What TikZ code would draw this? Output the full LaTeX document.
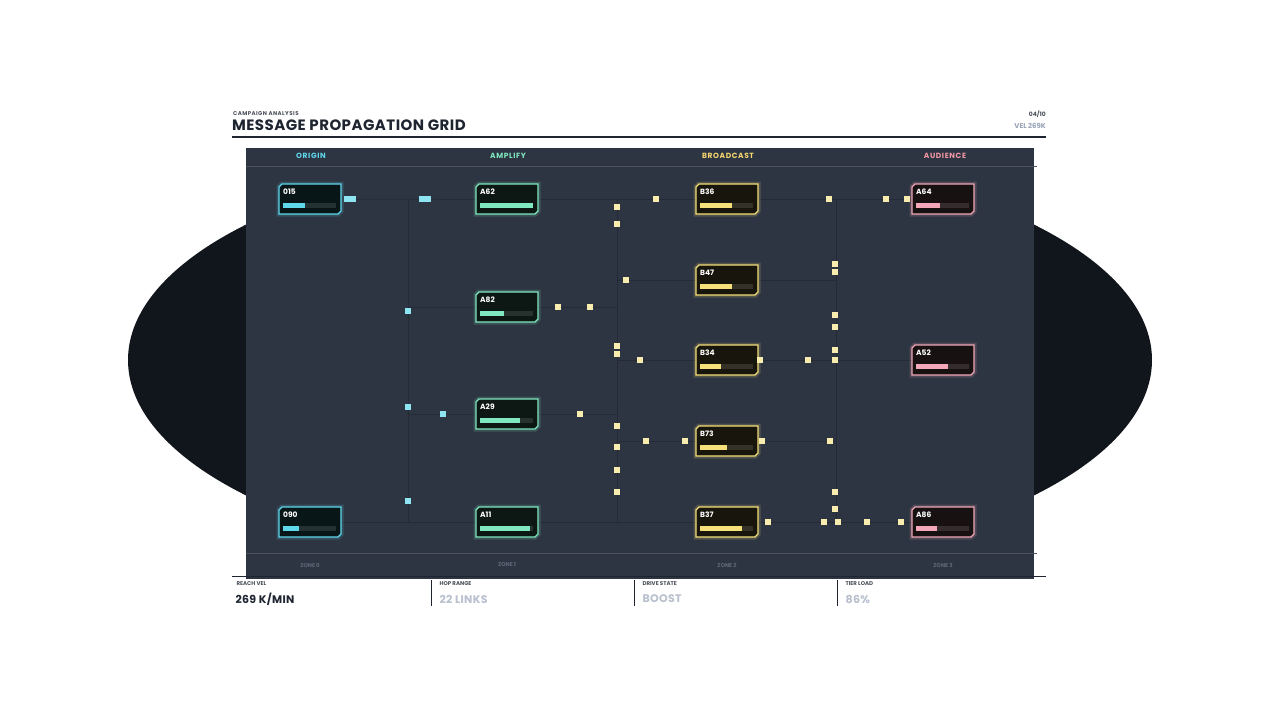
\documentclass[tikz,border=0pt]{standalone}
\usepackage{fontspec}
\setmainfont{Poppins}
\newfontfamily\wideff[LetterSpace=8]{Poppins}
\newfontfamily\midff[LetterSpace=3]{Poppins}
\begin{document}
\definecolor{panel}{HTML}{2E3542}
\definecolor{ell}{HTML}{11151C}
\definecolor{cy}{HTML}{5FD8EC}
\definecolor{gr}{HTML}{7FE8C0}
\definecolor{ye}{HTML}{F5E07A}
\definecolor{pk}{HTML}{F2A8B8}
\definecolor{ink}{HTML}{1E2430}
\definecolor{wire}{HTML}{252B36}
\definecolor{gtx}{HTML}{9AA4B8}
\begin{tikzpicture}[x=1pt,y=-1pt,
  gbox/.style={minimum width=62pt,minimum height=30pt,inner sep=0},
  wirel/.style={draw=wire,line width=1pt},
  hdr/.style={font=\wideff\bfseries\fontsize{7.5}{8}\selectfont},
  zone/.style={font=\bfseries\fontsize{5.5}{6}\selectfont,text=gtx!45!panel},
  slab/.style={font=\bfseries\fontsize{5.5}{6}\selectfont,text=ink!80,anchor=west},
  sval/.style={font=\midff\bfseries\fontsize{11}{12}\selectfont,anchor=west}]
\useasboundingbox (0,0) rectangle (1280,720);
\fill[white] (0,0) rectangle (1280,720);
\fill[ell] (640,360) ellipse [x radius=512, y radius=212];
\fill[panel] (246,148) rectangle (1034,579);
\draw[ink,line width=1.2pt] (232,137) -- (1046,137);
\draw[ink,line width=1pt] (232,576) -- (1046,576);
\draw[ink!80,line width=0.6pt] (246,166) -- (1037,166);
\draw[ink!80,line width=0.6pt] (246,553) -- (1037,553);
% header
\node[anchor=west,inner sep=0,font=\wideff\bfseries\fontsize{5.5}{6}\selectfont,text=ink!80] (sub) at (233,114) {CAMPAIGN ANALYSIS};
\node[anchor=west,inner sep=0,font=\midff\bfseries\fontsize{15}{16}\selectfont,text=ink] (title) at (232,125) {MESSAGE PROPAGATION GRID};
\node[anchor=east,inner sep=0,font=\bfseries\fontsize{6}{7}\selectfont,text=ink!80] (pg) at (1046,114) {04/10};
\node[anchor=east,inner sep=0,font=\bfseries\fontsize{7}{8}\selectfont,text=gtx] (vel) at (1046,126) {VEL 269K};
\node[hdr,text=cy] (h0) at (311,156) {ORIGIN};
\node[hdr,text=gr] (h1) at (508,156) {AMPLIFY};
\node[hdr,text=ye!90!orange] (h2) at (728,156) {BROADCAST};
\node[hdr,text=pk!90!red] (h3) at (945,156) {AUDIENCE};
\foreach \x/\n in {310/0,507/1,727/2,943/3}{\node[zone] (z\n) at (\x,565) {ZONE \n};}
% node anchors first
\foreach \n/\x/\y in {n015/310/199,n090/310/522,a62/507/199,a82/507/307,a29/507/414,a11/507/522,b36/727/199,b47/727/280,b34/727/360,b73/727/441,b37/727/522,a64/943/199,a52/943/360,a86/943/522}
  {\node[gbox] (\n) at (\x,\y) {};}
% wires
\coordinate (b1t) at (408,199); \coordinate (b1b) at (408,522);
\coordinate (b2t) at (617,199); \coordinate (b2b) at (617,522);
\coordinate (b3t) at (836,199); \coordinate (b3b) at (836,522);
\draw[wirel] (b1t)--(b1b); \draw[wirel] (b2t)--(b2b); \draw[wirel] (b3t)--(b3b);
\draw[wirel] (n015.east) -- (b1t) -- (a62.west);
\draw[wirel] (n090.east) -- (b1b);
\draw[wirel] (b1t |- a82) -- (a82.west);
\draw[wirel] (b1t |- a29) -- (a29.west);
\draw[wirel] (b1b) -- (a11.west);
\draw[wirel] (a62.east) -- (b36.west);
\draw[wirel] (a82.east) -- (b2t |- a82);
\draw[wirel] (a29.east) -- (b2t |- a29);
\draw[wirel] (a11.east) -- (b37.west);
\draw[wirel] (b2t |- b47) -- (b47.west);
\draw[wirel] (b2t |- b34) -- (b34.west);
\draw[wirel] (b2t |- b73) -- (b73.west);
\draw[wirel] (b36.east) -- (a64.west);
\draw[wirel] (b47.east) -- (b3t |- b47);
\draw[wirel] (b34.east) -- (a52.west);
\draw[wirel] (b73.east) -- (b3t |- b73);
\draw[wirel] (b37.east) -- (a86.west);
\newcommand\gnode[6]{%
 \begin{scope}[shift={(#2,#3)}]
 \draw[#5,line width=5pt,opacity=.18] (-31,-12)--(-28,-15)--(31,-15)--(31,12)--(28,15)--(-31,15)--cycle;
 \filldraw[fill=#5!10!black,draw=#5,line width=1.1pt] (-31,-12)--(-28,-15)--(31,-15)--(31,12)--(28,15)--(-31,15)--cycle;
 \node[anchor=west,inner sep=0,font=\bfseries\fontsize{7.5}{8}\selectfont,text=white!90] at (-27,-7) {#4};
 \fill[#5!12!black!90] (-27,4) rectangle (26,9);
 \fill[#5] (-27,4) rectangle (-27+53*#6,9);
 \end{scope}}
\gnode{n015}{310}{199}{015}{cy}{0.42}
\gnode{n090}{310}{522}{090}{cy}{0.3}
\gnode{a62}{507}{199}{A62}{gr}{1.0}
\gnode{a82}{507}{307}{A82}{gr}{0.45}
\gnode{a29}{507}{414}{A29}{gr}{0.75}
\gnode{a11}{507}{522}{A11}{gr}{0.95}
\gnode{b36}{727}{199}{B36}{ye}{0.6}
\gnode{b47}{727}{280}{B47}{ye}{0.6}
\gnode{b34}{727}{360}{B34}{ye}{0.4}
\gnode{b73}{727}{441}{B73}{ye}{0.5}
\gnode{b37}{727}{522}{B37}{ye}{0.8}
\gnode{a64}{943}{199}{A64}{pk}{0.45}
\gnode{a52}{943}{360}{A52}{pk}{0.6}
\gnode{a86}{943}{522}{A86}{pk}{0.4}
% markers
\foreach \x/\y in {347/199,353/199,422/199,428/199,408/311,408/407,443/414,408/501}
  {\fill[cy!70!white] (\x-3,\y-3) rectangle (\x+3,\y+3);}
\foreach \x/\y in {617/207,617/224,656/199,626/280,558/307,590/307,617/346,617/354,640/360,580/414,617/426,617/447,617/470,617/492,646/441,685/441,760/360,808/360,762/441,768/522,829/199,835/264,835/272,835/315,835/327,835/350,835/360,830/441,835/492,835/509,824/522,838/522,867/522,901/522,886/199,907/199}
  {\fill[ye!60!white] (\x-3,\y-3) rectangle (\x+3,\y+3);}
% footer
\draw[ink,line width=1pt] (431,580)--(431,606) (634,580)--(634,606) (837,580)--(837,606);
\node[slab] (l1) at (233,584) {REACH VEL};
\node[sval,text=ink] (v1) at (232,599) {269 K/MIN};
\node[slab] (l2) at (436,584) {HOP RANGE};
\node[sval,text=gtx!70] (v2) at (436,599) {22 LINKS};
\node[slab] (l3) at (639,584) {DRIVE STATE};
\node[sval,text=gtx!70] (v3) at (639,599) {BOOST};
\node[slab] (l4) at (842,584) {TIER LOAD};
\node[sval,text=gtx!70] (v4) at (842,599) {86\%};
\end{tikzpicture}
\end{document}
